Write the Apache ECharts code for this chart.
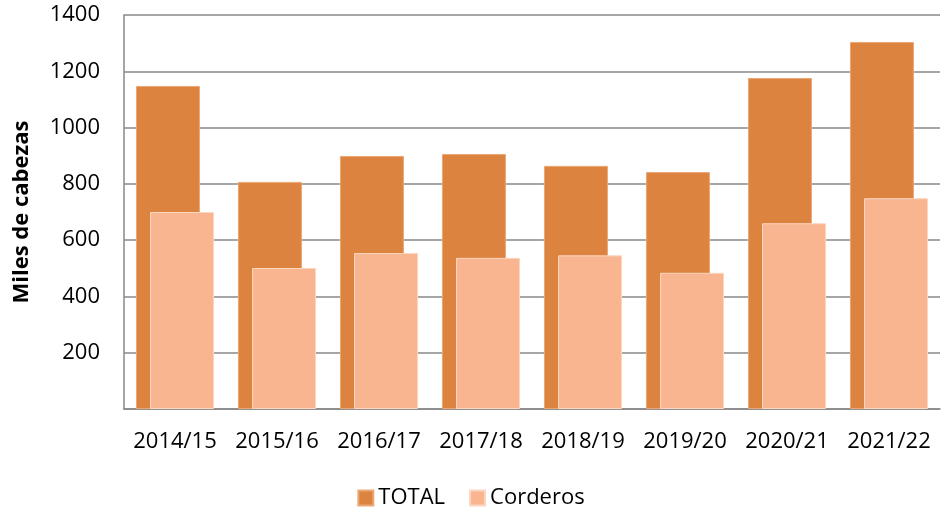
<!DOCTYPE html>
<html>
<head>
<meta charset="utf-8">
<script src="https://cdn.jsdelivr.net/npm/echarts@6/dist/echarts.min.js"></script>
<style>
  html, body { margin: 0; padding: 0; background: #fff; }
  #chart { width: 942px; height: 511px; }
</style>
</head>
<body>
<div id="chart"></div>
<script>
// campañas
const categories = ['2014/15', '2015/16', '2016/17', '2017/18', '2018/19', '2019/20', '2020/21', '2021/22']
// miles de cabezas
const total = [1148, 807, 899, 906, 864, 842, 1176, 1304]
const corderos = [700, 501, 554, 537, 546, 484, 660, 749]

const chart = echarts.init(document.getElementById('chart'))
const font = 'Open Sans, Noto Sans, sans-serif'
const option = {
  animation: false,
  textStyle: { fontFamily: font },
  grid: {
    left: 124,
    right: 2,
    top: 15,
    bottom: 102
  },
  legend: {
    top: 487,
    left: 'center',
    padding: 0,
    itemWidth: 15,
    itemHeight: 15,
    itemGap: 24,
    icon: 'rect',
    textStyle: { fontSize: 22, color: '#000', fontFamily: font },
    data: ['TOTAL', 'Corderos']
  },
  xAxis: {
    type: 'category',
    data: categories,
    axisLine: { lineStyle: { color: '#888', width: 1.5 } },
    axisTick: { show: false },
    axisLabel: { interval: 0, fontSize: 22, color: '#000', margin: 22, fontFamily: font }
  },
  yAxis: {
    type: 'value',
    min: 0,
    max: 1400,
    interval: 200,
    name: 'Miles de cabezas',
    nameLocation: 'middle',
    nameRotate: 90,
    nameGap: 91,
    nameTextStyle: { fontSize: 22, fontWeight: 'bold', color: '#000', fontFamily: font },
    axisLine: { show: true, lineStyle: { color: '#888', width: 1.5 } },
    axisTick: { show: false },
    splitLine: { lineStyle: { color: '#888', width: 1.5 } },
    axisLabel: {
      fontSize: 22,
      color: '#000',
      margin: 24,
      fontFamily: font,
      showMinLabel: false,
      formatter: (v) => String(v)
    }
  },
  series: [
    {
      name: 'TOTAL',
      type: 'bar',
      data: total,
      barWidth: 64,
      barGap: '-78%',
      itemStyle: { color: '#DC843F', borderColor: '#EBA877', borderWidth: 1 }
    },
    {
      name: 'Corderos',
      type: 'bar',
      data: corderos,
      barWidth: 64,
      itemStyle: { color: '#F8B590', borderColor: '#FCD6C0', borderWidth: 1 }
    }
  ]
}
chart.setOption(option)
</script>
</body>
</html>
